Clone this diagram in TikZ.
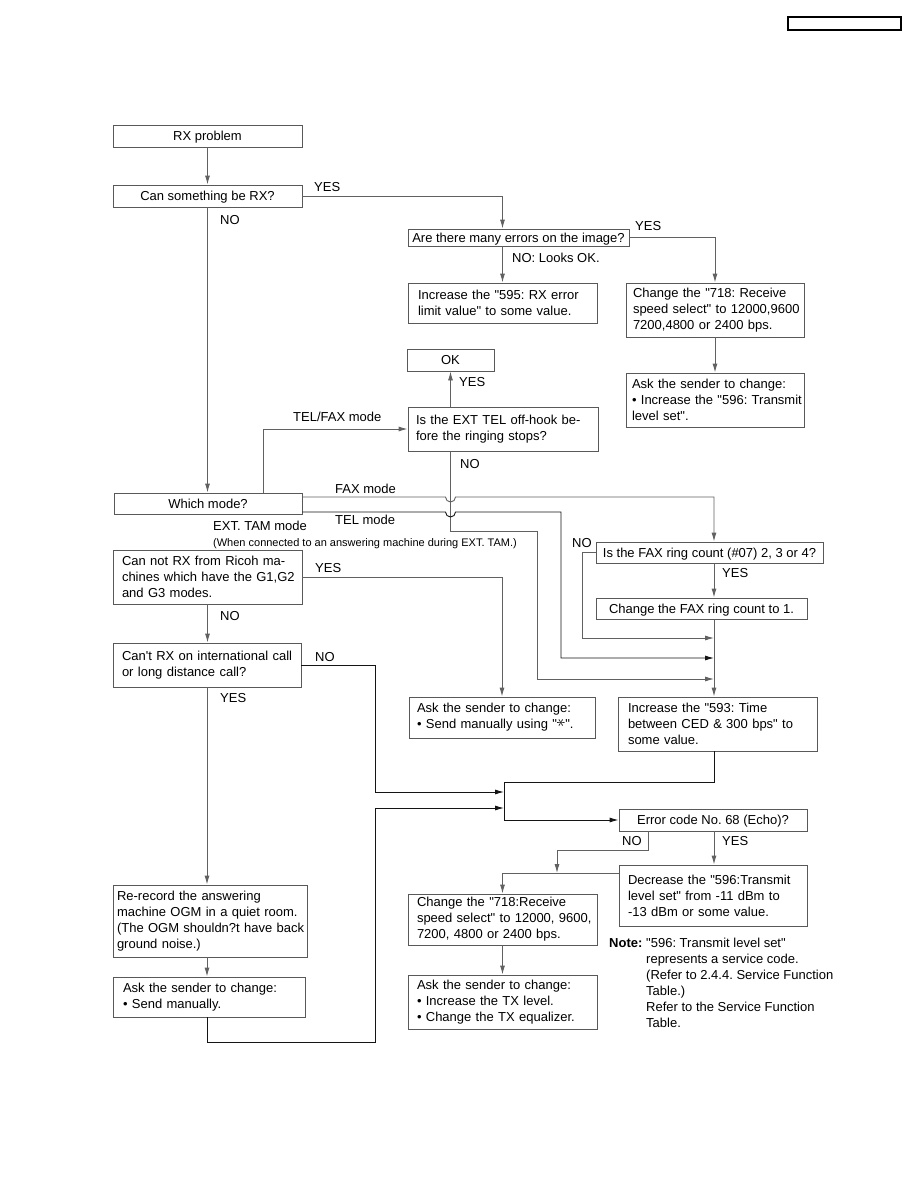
\documentclass[tikz,border=0pt]{standalone}
\usepackage{fontspec}
\usepackage{graphicx}
\setmainfont{Liberation Sans}[Ligatures=TeXOff]
\usetikzlibrary{arrows.meta,calc}
\definecolor{bxc}{gray}{0.35}
\definecolor{lnc}{gray}{0.38}
\definecolor{dkc}{gray}{0.08}
\newcommand\myfs{\fontsize{13}{16}\selectfont\frenchspacing}
\newcommand\mysm{\fontsize{11}{13}\selectfont\frenchspacing}
\newcommand\starglyph{\raisebox{0.25ex}{\scalebox{1.5}{\rotatebox{90}{$\ast$}}}}
\begin{document}
\begin{tikzpicture}[x=1pt,y=-1pt,
 box/.style={draw=bxc,line width=0.9pt,inner sep=0pt,font=\myfs,align=center},
 sbox/.style={box,text height=9.4pt,text depth=0pt},
 lbox/.style={box,align=left},
 lbl/.style={anchor=west,inner sep=0pt,font=\myfs,text height=9.4pt,text depth=0pt},
 ln/.style={draw=lnc,line width=0.9pt},
 dk/.style={draw=dkc,line width=0.9pt},
 arr/.style={-{Latex[length=9pt,width=5pt]}}]
\fill[white] (0,0) rectangle (918,1188);
\useasboundingbox (0,0) rectangle (918,1188);

\node[draw=black,line width=1.2pt,minimum width=113pt,minimum height=13pt,inner sep=0pt] (hdr) at (844.5,23.5) {};

% boxes
\node[sbox,minimum width=189pt,minimum height=22pt] (rx) at (207.5,136) {RX problem};
\node[sbox,minimum width=189pt,minimum height=22pt] (can) at (207.5,196) {Can something be RX?};
\node[sbox,minimum width=221pt,minimum height=17pt] (err) at (518.5,237.5) {Are there many errors on the image?};
\node[lbox,minimum height=40pt,text width=169pt,inner xsep=10pt] (inc) at (502.5,303) {\mbox{Increase the "595: RX error}\\\mbox{limit value" to some value.}};
\node[lbox,minimum height=54pt,text width=164pt,inner xsep=7pt] (cha) at (715,310) {\mbox{Change the "718: Receive}\\\mbox{speed select" to 12000,9600}\\\mbox{7200,4800 or 2400 bps.}};
\node[lbox,minimum height=54pt,text width=166pt,inner xsep=6pt] (ask) at (715,400) {\mbox{Ask the sender to change:}\\\mbox{• Increase the "596: Transmit}\\\mbox{level set".}};
\node[sbox,minimum width=87pt,minimum height=22pt] (ok) at (450.5,360) {OK};
\node[lbox,minimum height=44pt,text width=174pt,inner xsep=8pt] (ext) at (503,429) {\mbox{Is the EXT TEL off-hook be-}\\\mbox{fore the ringing stops?}};
\node[sbox,minimum width=188pt,minimum height=21pt] (which) at (208,503.5) {Which mode?};
\node[lbox,minimum height=54pt,text width=171pt,inner xsep=9pt] (ricoh) at (207.5,577) {\mbox{Can not RX from Ricoh ma-}\\\mbox{chines which have the G1,G2}\\\mbox{and G3 modes.}};
\node[lbox,minimum height=44pt,text width=170pt,inner xsep=9pt] (intl) at (207,665) {\mbox{Can't RX on international call}\\\mbox{or long distance call?}};
\node[sbox,minimum width=227pt,minimum height=21pt] (ring) at (709.5,552.5) {Is the FAX ring count (\#07) 2, 3 or 4?};
\node[sbox,minimum width=211pt,minimum height=21pt] (ring1) at (701.5,608.5) {Change the FAX ring count to 1.};
\node[lbox,minimum height=54pt,text width=179pt,inner xsep=10pt] (t593) at (717.5,724) {\mbox{Increase the "593: Time}\\\mbox{between CED \& 300 bps" to}\\\mbox{some value.}};
\node[lbox,minimum height=41pt,text width=170pt,inner xsep=8pt] (sendstar) at (502,717.5) {\mbox{Ask the sender to change:}\\\mbox{• Send manually using "\starglyph".}};
\node[sbox,minimum width=188pt,minimum height=22pt] (errc) at (713,820) {Error code No. 68 (Echo)?};
\node[lbox,minimum height=61pt,text width=170pt,inner xsep=9pt] (dec) at (713,895.5) {\mbox{Decrease the "596:Transmit}\\\mbox{level set" from -11 dBm to}\\\mbox{-13 dBm or some value.}};
\node[lbox,minimum height=51pt,text width=171pt,inner xsep=9pt] (chb) at (502.5,919.5) {\mbox{Change the "718:Receive}\\\mbox{speed select" to 12000, 9600,}\\\mbox{7200, 4800 or 2400 bps.}};
\node[lbox,minimum height=54pt,text width=171pt,inner xsep=9pt] (asktx) at (502.5,1002) {\mbox{Ask the sender to change:}\\\mbox{• Increase the TX level.}\\\mbox{• Change the TX equalizer.}};
\node[lbox,minimum height=72pt,text width=186pt,inner xsep=4pt] (rerec) at (210,921) {\mbox{Re-record the answering}\\\mbox{machine OGM in a quiet room.}\\\mbox{(The OGM shouldn?t have back}\\\mbox{ground noise.)}};
\node[lbox,minimum height=40pt,text width=172pt,inner xsep=10pt] (sendman) at (209,997) {\mbox{Ask the sender to change:}\\\mbox{• Send manually.}};

% note
\node[anchor=north west,inner sep=0pt,font=\myfs] (note) at (609,936.3) {\begin{tabular}{@{}p{37pt}@{}l@{}}
\textbf{Note:} & "596: Transmit level set"\\
 & represents a service code.\\
 & (Refer to 2.4.4. Service Function\\
 & Table.)\\
 & Refer to the Service Function\\
 & Table.
\end{tabular}};

% helper coordinates
\coordinate (mx) at (714,0);
\coordinate (jx) at (504,0);
\coordinate (fy) at (0,497);
\coordinate (ty) at (0,512);
\coordinate (nA) at (537,531);
\coordinate (nB) at (537,679);
\coordinate (tB) at (561,658);
\coordinate (rA) at (582,638);
\coordinate (iA) at (375,792);
\coordinate (mA) at (504,782);
\coordinate (bA) at (375,1042);
\coordinate (bB) at (375,808);
\coordinate (eA) at (648,850);
\coordinate (eB) at (557,873);

% connectors
\draw[ln,arr] (rx.south) -- (can.north);
\draw[ln,arr] (can.east) -| (inc.north |- err.north);
\draw[ln,arr] (inc.north |- err.south) -- (inc.north);
\draw[ln,arr] (err.east) -| (cha.north);
\draw[ln,arr] (cha.south) -- (ask.north);
\draw[ln,arr] (can.south) -- (can.south |- which.north);
\draw[ln,arr] ($(which.north west)+(150,0)$) |- (ext.west);
\draw[ln,arr] (ok.south |- ext.north) -- (ok.south);
\draw[ln,arr] (ok.south |- ext.south) |- (nA) -- (nB) -- (mx |- nB);
\draw[ln,arr] (which.east |- fy) -- ($(ok.south |- fy)+(-5,0)$) arc[start angle=180,end angle=360,radius=5pt] -- (mx |- fy) -- (mx |- ring.north);
\draw[dk,arr] (which.east |- ty) -- ($(ok.south |- ty)+(-5,0)$) arc[start angle=180,end angle=360,radius=5pt] -- (tB |- ty) -- (tB) -- (mx |- tB);
\draw[ln,arr] (ring.west) -| (rA) -- (mx |- rA);
\draw[ln,arr] (mx |- ring.south) -- (mx |- ring1.north);
\draw[ln,arr] (mx |- ring1.south) -- (mx |- t593.north);
\draw[ln,arr] (ricoh.east) -| (sendstar.north);
\draw[ln,arr] (ricoh.south) -- (ricoh.south |- intl.north);
\draw[dk,arr] (intl.east) -| (iA) -- (jx |- iA);
\draw[dk,arr] (mx |- t593.south) |- (mA) |- (errc.west);
\draw[ln,arr] (intl.south) -- (intl.south |- rerec.north);
\draw[ln,arr] (intl.south |- rerec.south) -- (intl.south |- sendman.north);
\draw[dk,arr] (intl.south |- sendman.south) |- (bA) -- (bB) -- (jx |- bB);
\draw[ln,arr] (eA |- errc.south) -- (eA) -| (eB);
\draw[ln,arr] (mx |- errc.south) -- (mx |- dec.north);
\draw[ln,arr] (dec.west |- eB) -| (chb.north);
\draw[ln,arr] (chb.south) -- (asktx.north);

% labels
\node[lbl] (l1) at (314,187) {YES};
\node[lbl] (l2) at (220,220) {NO};
\node[lbl] (l3) at (512,258) {NO: Looks OK.};
\node[lbl] (l4) at (635,226) {YES};
\node[lbl] (l5) at (459,382) {YES};
\node[lbl] (l6) at (293,417) {TEL/FAX mode};
\node[lbl] (l7) at (460,464) {NO};
\node[lbl] (l8) at (335,489) {FAX mode};
\node[lbl] (l9) at (335,520) {TEL mode};
\node[lbl] (l10) at (213,526) {EXT. TAM mode};
\node[lbl,font=\mysm,text height=8pt] (l11) at (213,542) {(When connected to an answering machine during EXT. TAM.)};
\node[lbl] (l12) at (315,568) {YES};
\node[lbl] (l13) at (220,616) {NO};
\node[lbl] (l14) at (315,657) {NO};
\node[lbl] (l15) at (220,698) {YES};
\node[lbl] (l16) at (572,543) {NO};
\node[lbl] (l17) at (722,573) {YES};
\node[lbl] (l18) at (622,841) {NO};
\node[lbl] (l19) at (722,841) {YES};
\end{tikzpicture}
\end{document}
